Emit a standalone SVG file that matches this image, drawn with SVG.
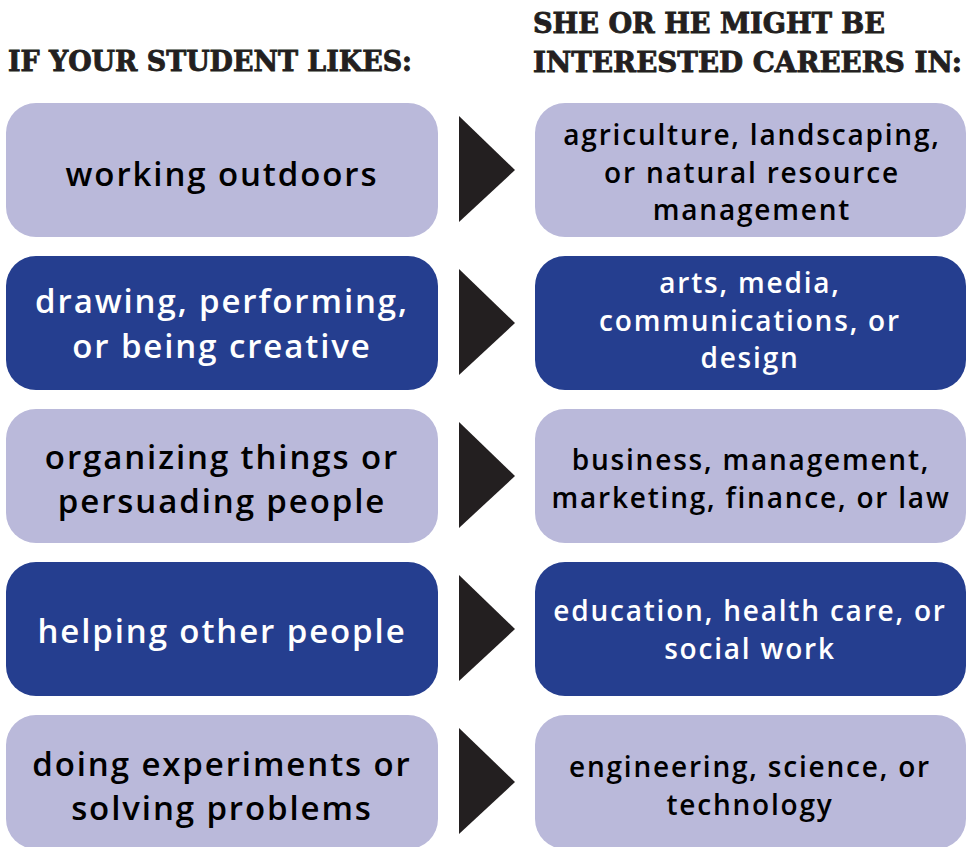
<svg xmlns="http://www.w3.org/2000/svg" width="971" height="847" viewBox="0 0 971 847">
<defs>
<style>
.light{fill:#BAB9DA}
.dark{fill:#253E8F}
.arrow{fill:#231F20}
.hdr{font-family:"DejaVu Serif","Liberation Serif",serif;font-weight:bold;font-size:28px;fill:#231F20;stroke:#231F20;stroke-width:0.9px}
.lt{font-family:"Open Sans","Noto Sans",sans-serif;font-weight:600;font-size:33px;letter-spacing:1.9px;text-anchor:middle}
.rt{font-family:"Open Sans","Noto Sans",sans-serif;font-weight:600;font-size:28px;letter-spacing:1.8px;text-anchor:middle}
.bk{fill:#000}
.wh{fill:#fff}
</style>
</defs>
<g id="headers">
<text class="hdr" x="8" y="71" textLength="404" lengthAdjust="spacingAndGlyphs">IF YOUR STUDENT LIKES:</text>
<text class="hdr" x="533" y="33" textLength="352" lengthAdjust="spacingAndGlyphs">SHE OR HE MIGHT BE</text>
<text class="hdr" x="533" y="72" textLength="429" lengthAdjust="spacingAndGlyphs">INTERESTED CAREERS IN:</text>
</g>
<g id="connectors">
<polygon class="arrow" points="459,116 515,170 459,222"/>
<polygon class="arrow" points="459,269 515,323 459,375"/>
<polygon class="arrow" points="459,422 515,476 459,528"/>
<polygon class="arrow" points="459,575 515,629 459,681"/>
<polygon class="arrow" points="459,728 515,782 459,834"/>
</g>
<g id="like1"><rect class="light" x="6" y="103" width="432" height="134" rx="30"/>
<text class="lt bk" x="222" y="186">working outdoors</text></g>
<g id="career1"><rect class="light" x="535" y="103" width="431" height="134" rx="30"/>
<text class="rt bk" x="752" y="145">agriculture, landscaping,</text>
<text class="rt bk" x="752" y="183">or natural resource</text>
<text class="rt bk" x="752" y="220">management</text></g>
<g id="like2"><rect class="dark" x="6" y="256" width="432" height="134" rx="30"/>
<text class="lt wh" x="222" y="313">drawing, performing,</text>
<text class="lt wh" x="222" y="358">or being creative</text></g>
<g id="career2"><rect class="dark" x="535" y="256" width="431" height="134" rx="30"/>
<text class="rt wh" x="750" y="293">arts, media,</text>
<text class="rt wh" x="750" y="331">communications, or</text>
<text class="rt wh" x="750" y="368">design</text></g>
<g id="like3"><rect class="light" x="6" y="409" width="432" height="134" rx="30"/>
<text class="lt bk" x="222" y="469">organizing things or</text>
<text class="lt bk" x="222" y="513">persuading people</text></g>
<g id="career3"><rect class="light" x="535" y="409" width="431" height="134" rx="30"/>
<text class="rt bk" x="751" y="470">business, management,</text>
<text class="rt bk" x="751" y="508">marketing, finance, or law</text></g>
<g id="like4"><rect class="dark" x="6" y="562" width="432" height="134" rx="30"/>
<text class="lt wh" x="222" y="643">helping other people</text></g>
<g id="career4"><rect class="dark" x="535" y="562" width="431" height="134" rx="30"/>
<text class="rt wh" x="750" y="621">education, health care, or</text>
<text class="rt wh" x="750" y="659">social work</text></g>
<g id="like5"><rect class="light" x="6" y="715" width="432" height="134" rx="30"/>
<text class="lt bk" x="222" y="776">doing experiments or</text>
<text class="lt bk" x="222" y="820">solving problems</text></g>
<g id="career5"><rect class="light" x="535" y="715" width="431" height="134" rx="30"/>
<text class="rt bk" x="750" y="777">engineering, science, or</text>
<text class="rt bk" x="750" y="815">technology</text></g>
</svg>
